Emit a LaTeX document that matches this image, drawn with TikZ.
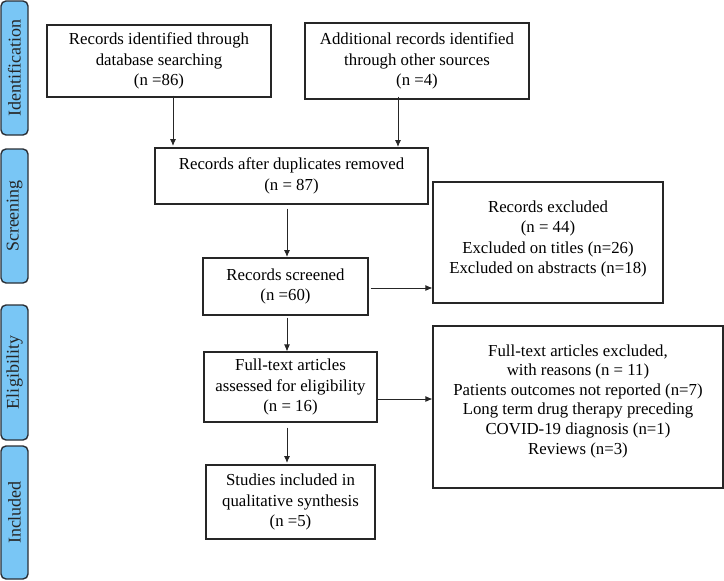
\documentclass[tikz,border=0pt]{standalone}
\usepackage{fontspec}
\setmainfont{Liberation Serif}
\usetikzlibrary{arrows.meta}
\definecolor{stageblue}{HTML}{79C6F5}
\definecolor{stageedge}{HTML}{2A2F36}
\begin{document}
\begin{tikzpicture}[x=1pt,y=-1pt,
  box/.style={draw=black!85,line width=1.1pt,inner sep=0pt,align=center,
    font=\fontsize{16.8}{20.5}\selectfont},
  stage/.style={draw=stageedge,fill=stageblue,line width=1.4pt,rounded corners=5pt,
    minimum width=28pt,inner sep=0pt},
  stagetext/.style={rotate=90,font=\fontsize{18}{20}\selectfont,text=black!85},
  arr/.style={draw=black!85,line width=0.9pt,-{Latex[length=7pt,width=6pt]}}]
\useasboundingbox (0,0) rectangle (724,581);
% stage labels
\draw[stage] (1,1) rectangle (28,135);
\node[stagetext] (sid) at (14.5,68) {Identification};
\draw[stage] (1,149) rectangle (28,283);
\node[stagetext] (ssc) at (14.5,216) {Screening};
\draw[stage] (1,305) rectangle (28,440);
\node[stagetext] (sel) at (14.5,372.5) {Eligibility};
\draw[stage] (1,446) rectangle (28,579);
\node[stagetext] (sin) at (14.5,512.5) {Included};
% boxes
\node[box,minimum width=224pt,minimum height=72pt] (db) at (159,61)
  {Records identified through\\database searching\\(n =86)};
\node[box,minimum width=224pt,minimum height=76pt] (oth) at (417,61)
  {Additional records identified\\through other sources\\(n =4)};
\node[box,minimum width=273pt,minimum height=56pt] (dup) at (291.5,176)
  {Records after duplicates removed\\(n = 87)};
\node[box,minimum width=165pt,minimum height=57pt] (scr) at (285.5,286.5)
  {Records screened\\(n =60)};
\node[box,minimum width=230pt,minimum height=121pt] (exc) at (548,242.5) {};
\node[align=center,font=\fontsize{16.8}{20.2}\selectfont,inner sep=0pt] (exct) at (548,239)
  {Records excluded\\(n = 44)\\Excluded on titles (n=26)\\Excluded on abstracts (n=18)};
\node[box,minimum width=173pt,minimum height=70pt] (ft) at (290.5,387)
  {Full-text articles\\assessed for eligibility\\(n = 16)};
\node[box,minimum width=290pt,minimum height=162pt] (exc2) at (578,407) {};
\node[align=center,font=\fontsize{16.8}{19.6}\selectfont,inner sep=0pt] (exc2t) at (578,401)
  {Full-text articles excluded,\\with reasons (n = 11)\\Patients outcomes not reported (n=7)\\Long term drug therapy preceding\\COVID-19 diagnosis (n=1)\\Reviews (n=3)};
\node[box,minimum width=169pt,minimum height=74pt] (inc) at (290.5,502)
  {Studies included in\\qualitative synthesis\\(n =5)};
% arrows
\draw[arr] ([yshift=2pt]db.south -| 173,0) -- (173,146);
\draw[arr] ([yshift=3pt]oth.south -| 398,0) -- (398,147);
\draw[arr] ([yshift=-4pt]dup.south -| 287,0) -- (287,257);
\draw[arr] ([xshift=2pt]scr.east |- 0,288) -- (exc.west |- 0,288);
\draw[arr] ([yshift=-2pt]scr.south -| 287,0) -- (ft.north -| 287,0);
\draw[arr] (ft.east |- 0,399) -- (exc2.west |- 0,399);
\draw[arr] ([yshift=-5pt]ft.south -| 287,0) -- (287,463);
\end{tikzpicture}
\end{document}
